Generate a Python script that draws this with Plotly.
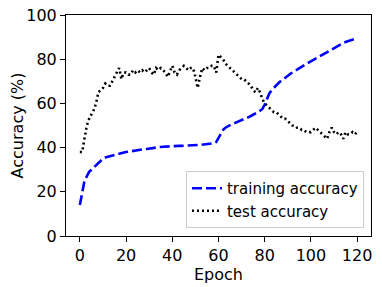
import plotly.graph_objects as go

epochs = list(range(121))

train_acc = [14, 20, 25, 27, 29, 30, 31, 32, 33, 34,
             35, 35.5, 35.8, 36.2, 36.6, 36.9, 37.2, 37.4, 37.6, 37.8,
             38.0, 38.2, 38.4, 38.6, 38.8, 39.0, 39.1, 39.2, 39.3, 39.4,
             39.6, 39.8, 40.0, 40.1, 40.2, 40.3, 40.4, 40.5, 40.5, 40.6,
             40.6, 40.7, 40.7, 40.8, 40.8, 40.9, 40.9, 41.0, 41.0, 41.1,
             41.1, 41.2, 41.2, 41.3, 41.3, 41.4, 41.5, 41.7, 42.0, 42.5,
             44.5, 46.5, 48, 49, 49.7, 50.2, 50.7, 51.1, 51.5, 51.9,
             52.3, 52.8, 53.3, 53.8, 54.3, 54.8, 55.4, 56, 56.7, 57.5,
             59.5, 62.5, 64.5, 66, 67.2, 68.3, 69.2, 70.1, 71, 71.8,
             72.6, 73.3, 74, 74.7, 75.4, 76, 76.6, 77.2, 77.8, 78.4,
             79, 79.6, 80.2, 80.8, 81.4, 82, 82.6, 83.3, 84, 84.6,
             85.3, 85.9, 86.5, 87, 87.4, 87.8, 88.1, 88.4, 88.7, 89.1,
             89.5]

test_acc = [38, 38, 44, 50, 53, 55, 57, 60, 65, 66,
            67, 69, 68, 68, 70, 72, 74, 76, 71, 74,
            74, 73, 73, 75, 74, 75, 74, 75, 74, 75,
            76, 74, 73, 76, 75, 76, 75, 74, 72, 75,
            77, 74, 73, 75, 76, 77, 76, 75, 76, 76,
            72, 67, 72, 76, 75, 76, 76, 77, 77, 74,
            82, 81, 80, 78, 77, 76, 75, 74, 73, 72,
            71, 71, 70, 69, 68, 66, 65, 67, 65, 62,
            60, 59, 58, 57, 56, 56, 55, 54, 53, 53,
            52, 51, 50, 50, 49, 49, 48, 48, 47, 47,
            47, 48, 49, 48, 47, 46, 45, 44, 47, 49,
            47, 46, 47, 46, 44, 47, 46, 46, 47, 46,
            47]

x_ticks = [0, 20, 40, 60, 80, 100, 120]
y_ticks = [0, 20, 40, 60, 80, 100]

fig = go.Figure()
fig.add_trace(go.Scatter(x=epochs, y=train_acc, mode="lines", name="training accuracy",
                         line=dict(color="#0000ff", width=2.6, dash="10px,4px")))
fig.add_trace(go.Scatter(x=epochs, y=test_acc, mode="lines", name="test accuracy",
                         line=dict(color="black", width=2.6, dash="2px,3px")))

axis_common = dict(showline=True, linecolor="black", linewidth=1, mirror=True,
                   ticks="outside", ticklen=5, tickcolor="black", tickwidth=1,
                   showgrid=False, zeroline=False, ticklabeloverflow="allow",
                   tickfont=dict(family="DejaVu Sans", size=16, color="black"))

fig.update_layout(
    width=374, height=279,
    margin=dict(l=58, r=11, t=7, b=51, autoexpand=False),
    paper_bgcolor="white", plot_bgcolor="white",
    font=dict(family="DejaVu Sans", size=16, color="black"),
    xaxis=dict(range=[-6, 126], tickvals=x_ticks,
               title=dict(text="Epoch", font=dict(size=16), standoff=2), **axis_common),
    yaxis=dict(range=[0, 100], tickvals=y_ticks,
               title=dict(text="Accuracy (%)", font=dict(size=16), standoff=6), **axis_common),
    legend=dict(x=0.977, y=0.036, xanchor="right", yanchor="bottom",
                bgcolor="rgba(255,255,255,0.8)", bordercolor="#cccccc", borderwidth=1,
                font=dict(size=15), tracegroupgap=0, itemwidth=30),
    showlegend=True,
)

fig.write_html("out.html")
